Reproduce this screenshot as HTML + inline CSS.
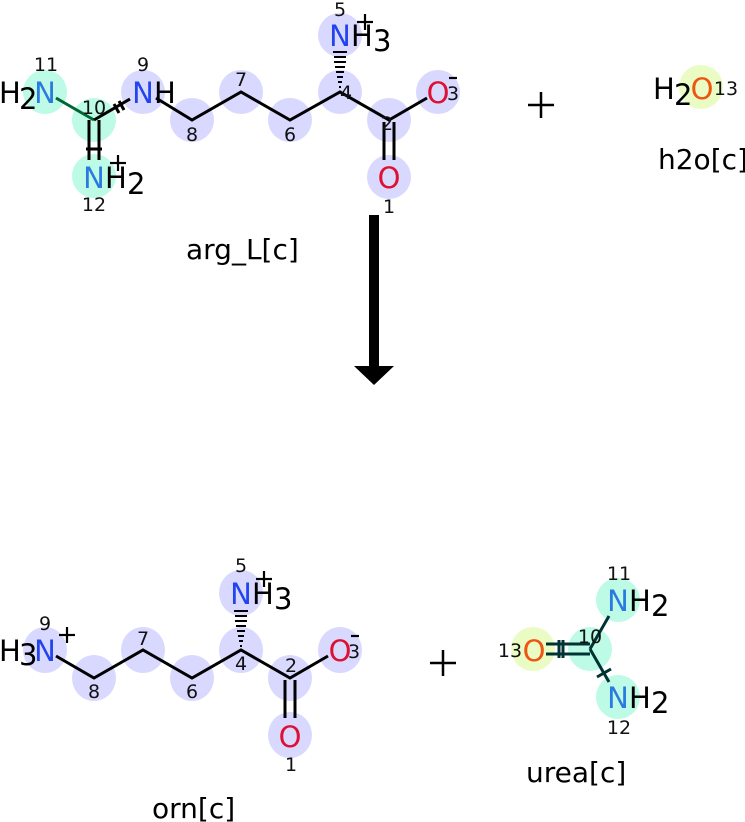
<!DOCTYPE html>
<html><head><meta charset="utf-8"><style>
html,body{margin:0;padding:0;background:#fff;}
svg{display:block;}
text{font-family:"DejaVu Sans","Liberation Sans",sans-serif;}
.a{font-size:29px;}
.n{font-size:19px;fill:#111;text-anchor:middle;}
</style></head><body>
<svg width="745" height="822" viewBox="0 0 745 822" xmlns="http://www.w3.org/2000/svg">
<!-- TOP: arg_L -->
<g fill="#d9d9ff">
<circle cx="143" cy="92" r="22"/><circle cx="192" cy="120" r="22"/><circle cx="241" cy="92" r="22"/>
<circle cx="290" cy="120" r="22"/><circle cx="340" cy="92" r="22"/><circle cx="340" cy="35" r="22"/>
<circle cx="389" cy="120" r="22"/><circle cx="438" cy="92" r="22"/><circle cx="389" cy="177" r="22"/>
</g>
<g fill="#bdfbe6">
<circle cx="45" cy="92" r="22"/><circle cx="94" cy="120" r="22"/><circle cx="94" cy="176" r="22"/>
</g>
<g stroke="#000" stroke-width="3" fill="none">
<line x1="56" y1="98" x2="94" y2="120" stroke="#063"/>
<line x1="94" y1="120" x2="130" y2="99"/>
<line x1="114" y1="104" x2="119" y2="113"/><line x1="119" y1="101" x2="124" y2="110"/>
<line x1="89" y1="120" x2="89" y2="160"/><line x1="99" y1="120" x2="99" y2="160"/>
<line x1="86" y1="149" x2="102" y2="149"/>
<polyline points="156,98 192,120 241,92 290,120 340,92 389,120 427,98"/>
<line x1="384" y1="122" x2="384" y2="160"/><line x1="394" y1="122" x2="394" y2="160"/>
</g>
<g stroke="#000" stroke-width="2">
<line x1="333" y1="52" x2="347" y2="52"/><line x1="334" y1="57" x2="346" y2="57"/>
<line x1="334" y1="62" x2="346" y2="62"/><line x1="335" y1="67" x2="345" y2="67"/>
<line x1="336" y1="72" x2="344" y2="72"/><line x1="337" y1="77" x2="343" y2="77"/>
<line x1="338" y1="82" x2="342" y2="82"/><line x1="339" y1="87" x2="341" y2="87"/>
</g>
<g class="a">
<text x="-1" y="103">H</text><text x="19" y="109">2</text>
<text x="45" y="103" fill="#2a7ae0" text-anchor="middle">N</text>
<text x="143" y="103" fill="#2244ee" text-anchor="middle">N</text><text x="154" y="103">H</text>
<text x="340" y="46" fill="#2244ee" text-anchor="middle">N</text><text x="351" y="46">H</text><text x="373" y="51">3</text>
<text x="438" y="103" fill="#dd1133" text-anchor="middle">O</text>
<text x="389" y="188" fill="#dd1133" text-anchor="middle">O</text>
<text x="94" y="188" fill="#2a7ae0" text-anchor="middle">N</text><text x="105" y="188">H</text><text x="127" y="194">2</text>
</g>
<g class="n">
<text x="46" y="71">11</text><text x="143" y="71">9</text><text x="94" y="114">10</text>
<text x="192" y="141">8</text><text x="241" y="86">7</text><text x="290" y="141">6</text>
<text x="346" y="99">4</text><text x="340" y="16">5</text><text x="387" y="130">2</text>
<text x="453" y="100">3</text><text x="389" y="213">1</text><text x="94" y="211">12</text>
</g>
<g stroke="#000" stroke-width="2.2">
<line x1="357" y1="22" x2="373" y2="22"/><line x1="365" y1="14" x2="365" y2="30"/>
<line x1="110" y1="163" x2="126" y2="163"/><line x1="118" y1="155" x2="118" y2="171"/>
<line x1="449" y1="78" x2="457" y2="78"/>
</g>
<text x="186" y="259" font-size="28">arg_L[c]</text>
<!-- plus top -->
<g stroke="#000" stroke-width="2.5"><line x1="528" y1="105" x2="554" y2="105"/><line x1="541" y1="92" x2="541" y2="118"/></g>
<!-- H2O -->
<circle cx="701" cy="87" r="22" fill="#eafcc4"/>
<text x="653" y="99" class="a">H</text><text x="674" y="105" class="a">2</text>
<text x="702" y="99" class="a" fill="#ee5511" text-anchor="middle">O</text>
<text x="726" y="95" class="n">13</text>
<text x="658" y="169" font-size="28">h2o[c]</text>
<!-- arrow -->
<rect x="369" y="215" width="10" height="152" fill="#000"/>
<polygon points="354,366 394,366 374,385" fill="#000"/>
<!-- BOTTOM: orn -->
<g fill="#d9d9ff">
<ellipse cx="45" cy="650" rx="22" ry="23"/><ellipse cx="94" cy="678" rx="22" ry="23"/><ellipse cx="143" cy="650" rx="22" ry="23"/>
<ellipse cx="192" cy="678" rx="22" ry="23"/><ellipse cx="241" cy="650" rx="22" ry="23"/><ellipse cx="241" cy="593" rx="22" ry="23"/>
<ellipse cx="290" cy="678" rx="22" ry="23"/><ellipse cx="340" cy="650" rx="22" ry="23"/><ellipse cx="290" cy="735" rx="22" ry="23"/>
</g>
<g stroke="#000" stroke-width="3" fill="none">
<polyline points="56,656 94,678 143,650 192,678 241,650 290,678 328,656"/>
<line x1="285" y1="680" x2="285" y2="718"/><line x1="295" y1="680" x2="295" y2="718"/>
</g>
<g stroke="#000" stroke-width="2">
<line x1="234" y1="611" x2="248" y2="611"/><line x1="235" y1="616" x2="247" y2="616"/>
<line x1="235" y1="621" x2="247" y2="621"/><line x1="236" y1="626" x2="246" y2="626"/>
<line x1="237" y1="631" x2="245" y2="631"/><line x1="238" y1="636" x2="244" y2="636"/>
<line x1="239" y1="641" x2="243" y2="641"/><line x1="240" y1="646" x2="242" y2="646"/>
</g>
<g class="a">
<text x="-1" y="661">H</text><text x="19" y="665">3</text>
<text x="45" y="661" fill="#2244ee" text-anchor="middle">N</text>
<text x="241" y="604" fill="#2244ee" text-anchor="middle">N</text><text x="252" y="604">H</text><text x="274" y="609">3</text>
<text x="340" y="661" fill="#dd1133" text-anchor="middle">O</text>
<text x="290" y="747" fill="#dd1133" text-anchor="middle">O</text>
</g>
<g class="n">
<text x="45" y="630">9</text><text x="94" y="698">8</text><text x="143" y="645">7</text>
<text x="192" y="698">6</text><text x="241" y="670">4</text><text x="241" y="572">5</text>
<text x="291" y="672">2</text><text x="354" y="658">3</text><text x="291" y="771">1</text>
</g>
<g stroke="#000" stroke-width="2.2">
<line x1="59" y1="635" x2="75" y2="635"/><line x1="67" y1="627" x2="67" y2="643"/>
<line x1="256" y1="579" x2="272" y2="579"/><line x1="264" y1="571" x2="264" y2="587"/>
<line x1="351" y1="636" x2="359" y2="636"/>
</g>
<text x="152" y="818" font-size="28">orn[c]</text>
<!-- plus bottom -->
<g stroke="#000" stroke-width="2.5"><line x1="430" y1="663" x2="456" y2="663"/><line x1="443" y1="650" x2="443" y2="676"/></g>
<!-- urea -->
<circle cx="533" cy="649" r="22" fill="#eafcc4"/>
<g fill="#bdfbe6">
<circle cx="590" cy="649" r="22"/><circle cx="618" cy="600" r="22"/><circle cx="618" cy="697" r="22"/>
</g>
<g stroke="#033" stroke-width="3" fill="none">
<line x1="546" y1="644" x2="590" y2="644"/><line x1="546" y1="654" x2="590" y2="654"/>
<line x1="559" y1="640" x2="559" y2="658"/><line x1="563" y1="640" x2="563" y2="658"/>
<line x1="590" y1="649" x2="609" y2="616"/>
<line x1="590" y1="649" x2="609" y2="682"/>
<line x1="597" y1="677" x2="611" y2="669"/>
</g>
<g class="a">
<text x="534" y="661" fill="#ee5511" text-anchor="middle">O</text>
<text x="618" y="611" fill="#2a7ae0" text-anchor="middle">N</text><text x="629" y="611">H</text><text x="651" y="616">2</text>
<text x="618" y="708" fill="#2a7ae0" text-anchor="middle">N</text><text x="629" y="708">H</text><text x="651" y="713">2</text>
</g>
<g class="n" fill="#222">
<text x="510" y="657">13</text><text x="590" y="643">10</text>
<text x="619" y="580">11</text><text x="619" y="734">12</text>
</g>
<text x="526" y="782" font-size="28">urea[c]</text>
</svg>
</body></html>
